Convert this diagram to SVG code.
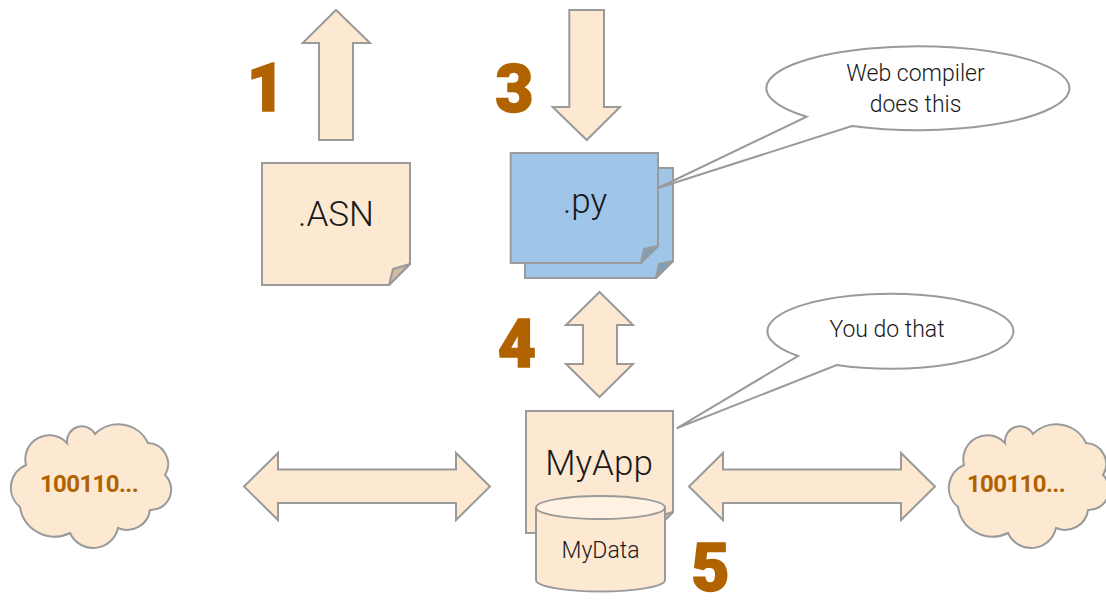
<svg xmlns="http://www.w3.org/2000/svg" width="1106" height="604" viewBox="0 0 1106 604">
  <defs>
    <style>
      .shape { fill: #fde9d2; stroke: #9a9a9a; stroke-width: 2; stroke-linejoin: miter; }
      .blue { fill: #9fc5e8; stroke: #9a9a9a; stroke-width: 2; }
      .fold { fill: #cdbba6; stroke: #9a9a9a; stroke-width: 2; stroke-linejoin: round; }
      .fold-blue { fill: #7f9fbd; stroke: #9a9a9a; stroke-width: 2; stroke-linejoin: round; }
      .callout { fill: #ffffff; stroke: #9a9a9a; stroke-width: 2; stroke-linejoin: miter; }
      .label { font-family: Roboto, "Liberation Sans", sans-serif; font-weight: 300; fill: #1a1a1a; text-anchor: middle; }
      .step { font-family: Roboto, "Liberation Sans", sans-serif; font-weight: 900; fill: #b06300; stroke: #b06300; stroke-width: 1.5; text-anchor: middle; font-size: 66px; }
      .bits { font-family: Roboto, "Liberation Sans", sans-serif; font-weight: 700; fill: #b06300; text-anchor: middle; font-size: 24px; letter-spacing: -0.6px; }
    </style>
    <path id="cloud" d="M26,465 A24,24 0 0 1 67,443 A15,15 0 0 1 95,434 A33,33 0 0 1 148,443 A21,21 0 0 1 165,475 A20.4,20.4 0 0 1 150,510 A23,23 0 0 1 118,528 A25.4,25.4 0 0 1 70,533 A35,35 0 0 1 20,507 A24.7,24.7 0 0 1 26,465 Z"/>
  </defs>

  <rect width="1106" height="604" fill="#ffffff"/>

  <!-- connectors: block arrows -->
  <g id="connectors">
    <polygon class="shape" points="336,10 370,43 353,43 353,140 319,140 319,43 302.7,43"/>
    <polygon class="shape" points="569.3,10 604,10 604,107 620,107 586.7,140 552.7,107 569.3,107"/>
    <polygon class="shape" points="599.5,292 633,325 617,325 617,364 633,364 599.5,397 566,364 583,364 583,325 566,325"/>
    <polygon class="shape" points="244,486.5 278,453 278,469.5 456,469.5 456,453 490,486.5 456,520 456,503 278,503 278,520"/>
    <polygon class="shape" points="689,486.5 723,453 723,469.5 901,469.5 901,453 935,486.5 901,520 901,503 723,503 723,520"/>
  </g>

  <!-- step numbers -->
  <g id="steps">
    <text class="step" x="266" y="111">1</text>
    <text class="step" x="514.5" y="112">3</text>
    <text class="step" x="517" y="367">4</text>
    <text class="step" x="710.5" y="591">5</text>
  </g>

  <!-- ASN source file -->
  <g id="asn">
    <polygon class="shape" points="262,163 410,163 410,264 389,285 262,285"/>
    <path class="fold" d="M389,285 L393,269 L410,264 Z"/>
    <text class="label" x="336" y="226" font-size="35">.ASN</text>
  </g>

  <!-- generated python files -->
  <g id="py">
    <polygon class="blue" points="525,168 673,168 673,261 656,278 525,278"/>
    <path class="fold-blue" d="M656,278 L659,264 L673,261 Z"/>
    <polygon class="blue" points="510.7,153 658,153 658,246 641,263 510.7,263"/>
    <path class="fold-blue" d="M641,263 L644,249 L658,246 Z"/>
    <text class="label" x="585" y="213" font-size="35">.py</text>
  </g>

  <!-- callout: compiler -->
  <g id="callout-compiler">
    <path class="callout" d="M852,126 A151.5,42 0 1 0 806.7,116.7 L658,188 Z"/>
    <text class="label" x="915.5" y="81" font-size="23">Web compiler</text>
    <text class="label" x="915.5" y="111.5" font-size="23">does this</text>
  </g>

  <!-- application -->
  <g id="myapp">
    <polygon class="shape" points="526,411 673,411 673,512 652,533 526,533"/>
    <path class="fold" d="M652,533 L656,517 L673,512 Z"/>
    <text class="label" x="599" y="475" font-size="35">MyApp</text>
  </g>

  <!-- application data store -->
  <g id="mydata">
    <path class="shape" d="M536,507.5 L536,580 A64.5,11.5 0 0 0 665,580 L665,507.5"/>
    <ellipse cx="600.5" cy="507.5" rx="64.5" ry="11.5" fill="#fff2e3" stroke="#9a9a9a" stroke-width="2"/>
    <text class="label" x="600.5" y="558" font-size="23">MyData</text>
  </g>

  <!-- callout: user -->
  <g id="callout-user">
    <path class="callout" d="M836.7,365 A123,37.5 0 1 0 798,356 L676.7,428.3 Z"/>
    <text class="label" x="887" y="337" font-size="23">You do that</text>
  </g>

  <!-- encoded data clouds -->
  <g id="cloud-left">
    <use href="#cloud" class="shape"/>
    <text class="bits" x="89" y="492">100110...</text>
  </g>
  <g id="cloud-right">
    <use href="#cloud" class="shape" transform="translate(938,0)"/>
    <text class="bits" x="1016" y="492">100110...</text>
  </g>
</svg>
